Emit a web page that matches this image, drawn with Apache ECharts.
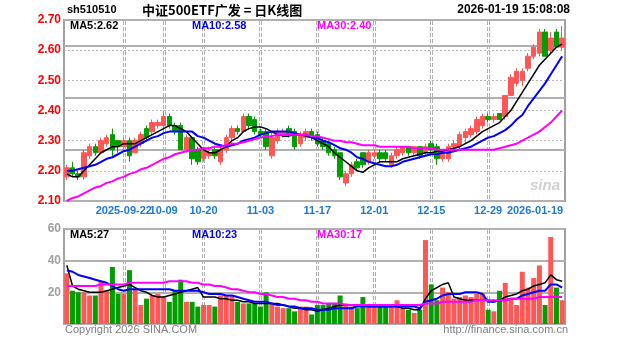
<!DOCTYPE html>
<html><head><meta charset="utf-8">
<script src="https://cdn.jsdelivr.net/npm/echarts@6/dist/echarts.min.js"></script>
<style>html,body{margin:0;padding:0;background:#fff}#c{width:627px;height:342px}</style>
</head><body><div id="c"></div>
<script>
const dates = ['2025-09-08','2025-09-09','2025-09-10','2025-09-11','2025-09-12','2025-09-15','2025-09-16','2025-09-17','2025-09-18','2025-09-19',
'2025-09-22','2025-09-23','2025-09-24','2025-09-25','2025-09-26','2025-09-29','2025-09-30','2025-10-09','2025-10-10','2025-10-13',
'2025-10-14','2025-10-15','2025-10-16','2025-10-17','2025-10-20','2025-10-21','2025-10-22','2025-10-23','2025-10-24','2025-10-27',
'2025-10-28','2025-10-29','2025-10-30','2025-10-31','2025-11-03','2025-11-04','2025-11-05','2025-11-06','2025-11-07','2025-11-10',
'2025-11-11','2025-11-12','2025-11-13','2025-11-14','2025-11-17','2025-11-18','2025-11-19','2025-11-20','2025-11-21','2025-11-24',
'2025-11-25','2025-11-26','2025-11-27','2025-11-28','2025-12-01','2025-12-02','2025-12-03','2025-12-04','2025-12-05','2025-12-08',
'2025-12-09','2025-12-10','2025-12-11','2025-12-12','2025-12-15','2025-12-16','2025-12-17','2025-12-18','2025-12-19','2025-12-22',
'2025-12-23','2025-12-24','2025-12-25','2025-12-26','2025-12-29','2025-12-30','2025-12-31','2026-01-05','2026-01-06','2026-01-07',
'2026-01-08','2026-01-09','2026-01-12','2026-01-13','2026-01-14','2026-01-15','2026-01-16','2026-01-19'];

const open = [2.18,2.21,2.19,2.18,2.25,2.28,2.26,2.29,2.32,2.30,
2.28,2.30,2.26,2.29,2.34,2.33,2.35,2.35,2.38,2.35,
2.35,2.27,2.31,2.27,2.24,2.25,2.27,2.23,2.27,2.31,
2.34,2.33,2.38,2.37,2.33,2.33,2.25,2.30,2.32,2.34,
2.33,2.29,2.31,2.33,2.32,2.30,2.29,2.27,2.26,2.16,
2.19,2.23,2.26,2.23,2.25,2.26,2.26,2.22,2.25,2.26,
2.28,2.26,2.28,2.26,2.29,2.28,2.24,2.24,2.28,2.28,
2.31,2.32,2.33,2.35,2.38,2.37,2.39,2.38,2.45,2.49,
2.50,2.54,2.58,2.59,2.66,2.60,2.66,2.61];
const close = [2.21,2.19,2.18,2.26,2.28,2.26,2.30,2.31,2.27,2.28,
2.30,2.25,2.30,2.32,2.31,2.36,2.36,2.38,2.35,2.33,
2.27,2.31,2.24,2.23,2.27,2.26,2.25,2.27,2.31,2.34,
2.33,2.38,2.35,2.33,2.32,2.28,2.31,2.33,2.33,2.32,
2.28,2.32,2.33,2.31,2.29,2.28,2.26,2.25,2.18,2.19,
2.22,2.21,2.22,2.26,2.26,2.24,2.24,2.25,2.27,2.28,
2.26,2.28,2.25,2.28,2.27,2.24,2.26,2.28,2.29,2.32,
2.33,2.34,2.37,2.38,2.37,2.38,2.37,2.45,2.51,2.53,
2.53,2.58,2.61,2.66,2.58,2.64,2.61,2.64];
const low = [2.17,2.18,2.17,2.17,2.24,2.25,2.26,2.28,2.25,2.26,
2.27,2.23,2.26,2.28,2.30,2.32,2.34,2.34,2.34,2.32,
2.27,2.26,2.22,2.22,2.23,2.24,2.24,2.22,2.26,2.30,
2.32,2.33,2.34,2.32,2.31,2.27,2.24,2.29,2.31,2.31,
2.27,2.28,2.30,2.30,2.28,2.27,2.25,2.24,2.17,2.15,
2.18,2.20,2.21,2.22,2.24,2.23,2.23,2.21,2.24,2.25,
2.25,2.25,2.24,2.25,2.26,2.22,2.23,2.23,2.27,2.27,
2.29,2.31,2.32,2.34,2.36,2.36,2.37,2.37,2.45,2.48,
2.48,2.53,2.57,2.58,2.58,2.59,2.61,2.60];
const high = [2.22,2.23,2.20,2.27,2.29,2.29,2.31,2.32,2.34,2.30,
2.31,2.31,2.31,2.33,2.35,2.37,2.37,2.40,2.39,2.36,
2.36,2.32,2.31,2.28,2.28,2.28,2.28,2.28,2.32,2.35,
2.35,2.39,2.39,2.38,2.34,2.34,2.33,2.34,2.34,2.35,
2.34,2.33,2.34,2.34,2.33,2.31,2.30,2.28,2.26,2.20,
2.23,2.24,2.26,2.27,2.27,2.27,2.27,2.26,2.28,2.28,
2.28,2.28,2.28,2.29,2.30,2.29,2.27,2.29,2.30,2.33,
2.34,2.35,2.38,2.39,2.39,2.39,2.39,2.45,2.52,2.54,
2.54,2.59,2.62,2.67,2.67,2.66,2.67,2.68];

const ma5 = [2.19,2.18,2.18,2.20,2.22,2.24,2.26,2.27,2.28,2.28,
2.29,2.29,2.29,2.30,2.31,2.32,2.33,2.34,2.35,2.35,
2.34,2.33,2.31,2.29,2.27,2.26,2.26,2.27,2.28,2.30,
2.31,2.33,2.34,2.345,2.345,2.34,2.33,2.32,2.315,2.315,
2.32,2.32,2.315,2.31,2.30,2.29,2.28,2.26,2.245,2.23,
2.215,2.20,2.195,2.21,2.22,2.23,2.23,2.23,2.23,2.24,
2.245,2.25,2.255,2.26,2.26,2.265,2.265,2.27,2.275,2.28,
2.29,2.30,2.315,2.33,2.34,2.35,2.36,2.38,2.40,2.43,
2.46,2.49,2.52,2.55,2.57,2.59,2.61,2.62];
const ma10 = [2.20,2.20,2.205,2.21,2.215,2.22,2.23,2.24,2.245,2.255,
2.265,2.27,2.28,2.29,2.30,2.31,2.315,2.325,2.33,2.33,
2.33,2.33,2.33,2.315,2.31,2.30,2.29,2.285,2.28,2.285,
2.29,2.30,2.305,2.31,2.32,2.325,2.33,2.33,2.33,2.33,
2.325,2.32,2.32,2.31,2.31,2.30,2.295,2.285,2.275,2.27,
2.26,2.245,2.24,2.23,2.225,2.22,2.215,2.215,2.22,2.23,
2.235,2.24,2.245,2.25,2.255,2.255,2.26,2.26,2.265,2.27,
2.275,2.28,2.29,2.30,2.31,2.315,2.325,2.335,2.35,2.37,
2.385,2.415,2.44,2.465,2.49,2.52,2.55,2.58];
const ma30 = [2.10,2.11,2.115,2.125,2.135,2.145,2.15,2.16,2.165,2.175,
2.18,2.19,2.195,2.205,2.21,2.22,2.23,2.24,2.245,2.255,
2.26,2.265,2.27,2.27,2.275,2.275,2.28,2.28,2.285,2.29,
2.29,2.295,2.30,2.305,2.31,2.315,2.315,2.32,2.32,2.32,
2.32,2.32,2.32,2.315,2.315,2.31,2.305,2.30,2.30,2.295,
2.295,2.29,2.285,2.285,2.285,2.28,2.28,2.28,2.28,2.28,
2.28,2.275,2.275,2.275,2.275,2.27,2.27,2.27,2.27,2.27,
2.27,2.27,2.27,2.27,2.27,2.27,2.275,2.28,2.285,2.29,
2.30,2.31,2.32,2.33,2.345,2.36,2.38,2.40];

const volume = [32,21,20,20,18,18,27,21,36,19,
19,34,22,12,16,18,19,17,14,21,
28,14,14,11,12,12,11,18,18,18,
14,13,13,13,11,20,13,11,10,10,
8,11,11,6,12,12,13,13,18,13,
11,10,17,12,12,11,11,12,15,10,
9,7,9,53,25,15,23,20,16,17,
18,17,19,19,9,8,21,26,16,12,
33,23,29,37,12,55,23,15];
const volMa5 = [37,24,22,21,20,20,20,21,22,23,
24,25,23,21,20,18,17,17,18,19,
20,21,22,23,17,17,17,16,16,15,
15,14,14,13,13,13,13,13,12,11,
10,10,9,9,8,9,10,11,12,12,
12,11,12,11,11,11,11,11,11,10,
10,9,9,16,21,23,25,26,17,16,
15,15,15,15,15,14,15,17,18,19,
21,22,24,25,26,31,28,27];
const volMa10 = [34,33,31,30,29,28,27,26,24,22,
21,22,22,22,22,22,22,22,22,21,
21,21,21,21,20,19,19,19,18,18,
17,16,15,14,14,14,13,12,12,11,
11,10,10,10,9,9,9,10,10,10,
10,11,11,11,11,11,11,11,11,11,
11,11,10,14,15,16,18,19,19,19,
20,20,20,19,14,14,15,15,16,16,
18,19,20,21,21,25,25,23];
const volMa30 = [24,24,24,24,24,24,25,25,25,25,
25,26,26,26,26,26,26,26,27,27,
27,27,26,26,25,25,24,24,23,22,
22,21,20,20,19,19,18,17,17,16,
16,15,15,14,14,13,13,13,13,12,
12,12,12,12,12,12,12,12,12,12,
12,12,12,13,13,13,14,14,14,14,
14,14,15,15,15,15,15,15,16,16,
16,16,16,17,17,17,17,17];

const tickDates = ['2025-09-22','2025-10-09','2025-10-20','2025-11-03','2025-11-17','2025-12-01','2025-12-15','2025-12-29','2026-01-19'];
const tickLabels = ['2025-09-22','10-09','10-20','11-03','11-17','12-01','12-15','12-29','2026-01-19'];
const priceMin = 2.10, priceMax = 2.70, priceStep = 0.10, priceMajorStep = 0.20;
const volMin = 0, volMax = 60, volStep = 20;

const RED = '#ff5656', GREEN = '#009e00';
const candles = dates.map((d, i) => [open[i], close[i], low[i], high[i]]);
const volData = volume.map((v, i) => ({ value: v, itemStyle: { color: close[i] >= open[i] ? RED : GREEN } }));
const last = a => a[a.length - 1];

// layout
const G_LEFT = 64, G_RIGHT = 62, P_TOP = 20, P_H = 181, V_TOP = 229, V_H = 95;

const chart = echarts.init(document.getElementById('c'), null, { renderer: 'canvas' });
const F = 'Liberation Sans, Arial, sans-serif';
const txt = (x, y, s, color, size, align, weight, family) => ({
  type: 'text', x: x, y: y, silent: true, z: 10,
  style: { text: s, fill: color, font: (weight || 'bold') + ' ' + size + 'px ' + (family || F), textAlign: align || 'left', textVerticalAlign: 'middle' }
});
const solidSplit = { show: true, lineStyle: { color: '#b0b0b0', type: 'solid', width: 2 } };

const staticGraphic = [
  txt(67, 10, 'sh510510', '#000', 11),
  txt(142, 10, '中证500ETF广发 = 日K线图', '#000', 13, 'left', 'bold', 'Noto Sans CJK SC'),
  txt(570, 10, '2026-01-19 15:08:08', '#000', 12, 'right'),
  txt(70, 26, 'MA5:' + last(ma5).toFixed(2), '#000', 11),
  txt(192, 26, 'MA10:' + last(ma10).toFixed(2), '#0000ff', 11),
  txt(317, 26, 'MA30:' + last(ma30).toFixed(2), '#ff00ff', 11),
  txt(70, 235, 'MA5:' + last(volMa5), '#000', 11),
  txt(192, 235, 'MA10:' + last(volMa10), '#0000ff', 11),
  txt(317, 235, 'MA30:' + last(volMa30), '#ff00ff', 11),
  txt(65, 330, 'Copyright 2026 SINA.COM', '#808080', 11, 'left', 'normal'),
  txt(568, 330, 'http://finance.sina.com.cn', '#808080', 11, 'right', 'normal'),
  txt(560, 186, 'sina', 'rgba(190,190,190,0.7)', 15, 'right', 'italic bold')
];

chart.setOption({
  animation: false,
  grid: [
    { left: G_LEFT, right: G_RIGHT, top: P_TOP, height: P_H, show: true, borderColor: '#a0a0a0', borderWidth: 2 },
    { left: G_LEFT, right: G_RIGHT, top: V_TOP, height: V_H, show: true, borderColor: '#a0a0a0', borderWidth: 2 }
  ],
  xAxis: [
    { type: 'category', gridIndex: 0, data: dates, boundaryGap: true,
      axisLine: { show: false }, axisTick: { show: false }, splitLine: { show: false }, axisLabel: { show: false } },
    { type: 'category', gridIndex: 1, data: dates, boundaryGap: true,
      axisLine: { show: false }, axisTick: { show: false }, axisLabel: { show: false }, splitLine: { show: false } }
  ],
  yAxis: [
    { type: 'value', gridIndex: 0, min: priceMin, max: priceMax, interval: priceStep, position: 'left',
      axisLine: { show: false }, axisTick: { show: false },
      splitLine: { show: true, lineStyle: { color: '#b8b8b8', type: [2, 2], width: 1 } },
      axisLabel: { margin: 3, color: '#ff0000', fontWeight: 'bold', fontSize: 12, fontFamily: F, formatter: v => v.toFixed(2) } },
    { type: 'value', gridIndex: 1, min: volMin, max: volMax, interval: volStep, position: 'left',
      axisLine: { show: false }, axisTick: { show: false },
      splitLine: { show: true, lineStyle: { color: '#b8b8b8', type: [2, 2], width: 1 } },
      axisLabel: { margin: 3, color: '#a0a0a0', fontWeight: 'bold', fontSize: 12, fontFamily: F, formatter: v => v === 0 ? '' : String(v) } },
    { type: 'value', gridIndex: 0, min: priceMin, max: priceMax + 0.1, interval: priceMajorStep, position: 'right',
      axisLine: { show: false }, axisTick: { show: false }, axisLabel: { show: false }, splitLine: solidSplit },
    { type: 'value', gridIndex: 1, min: volMin, max: volMax, interval: volStep, position: 'right',
      axisLine: { show: false }, axisTick: { show: false }, axisLabel: { show: false }, splitLine: solidSplit }
  ],
  series: [
    { type: 'candlestick', xAxisIndex: 0, yAxisIndex: 0, data: candles, barWidth: 5, z: 3,
      itemStyle: { color: RED, color0: GREEN, borderColor: RED, borderColor0: GREEN, borderWidth: 1 } },
    { type: 'line', name: 'MA5', xAxisIndex: 0, yAxisIndex: 0, data: ma5, symbol: 'none', lineStyle: { color: '#000', width: 1.5 }, z: 5 },
    { type: 'line', name: 'MA10', xAxisIndex: 0, yAxisIndex: 0, data: ma10, symbol: 'none', lineStyle: { color: '#0000ff', width: 2 }, z: 5 },
    { type: 'line', name: 'MA30', xAxisIndex: 0, yAxisIndex: 0, data: ma30, symbol: 'none', lineStyle: { color: '#ff00ff', width: 2 }, z: 5 },
    { type: 'bar', xAxisIndex: 1, yAxisIndex: 1, data: volData, barWidth: 5, z: 3 },
    { type: 'line', xAxisIndex: 1, yAxisIndex: 1, data: volMa5, symbol: 'none', lineStyle: { color: '#000', width: 1.5 }, z: 5 },
    { type: 'line', xAxisIndex: 1, yAxisIndex: 1, data: volMa10, symbol: 'none', lineStyle: { color: '#0000ff', width: 2 }, z: 5 },
    { type: 'line', xAxisIndex: 1, yAxisIndex: 1, data: volMa30, symbol: 'none', lineStyle: { color: '#ff00ff', width: 2 }, z: 5 }
  ],
  graphic: staticGraphic
});

// vertical grid lines and date labels, x placed through the category axis scale
const dyn = [];
const segs = [[P_TOP + 1, P_TOP + P_H - 1], [V_TOP + 1, V_TOP + V_H - 1]];
tickDates.forEach((d, k) => {
  const px = Number(chart.convertToPixel({ xAxisIndex: 0 }, d));
  const isLast = k === tickDates.length - 1;
  if (!isLast) {
    [-1, 1].forEach(o => {
      const xx = Math.round(px) + o + 0.5;
      segs.forEach(seg => {
        dyn.push({ type: 'line', silent: true, z: 1,
          shape: { x1: xx, y1: seg[0], x2: xx, y2: seg[1] },
          style: { stroke: '#b0b0b0', lineWidth: 1, lineDash: [4, 2] } });
      });
    });
  }
  dyn.push(txt(isLast ? px + 1 : px, P_TOP + P_H + 10, tickLabels[k], '#1a7ad8', 11, isLast ? 'right' : 'center'));
});
chart.setOption({ graphic: { elements: staticGraphic.concat(dyn) } });
</script></body></html>
